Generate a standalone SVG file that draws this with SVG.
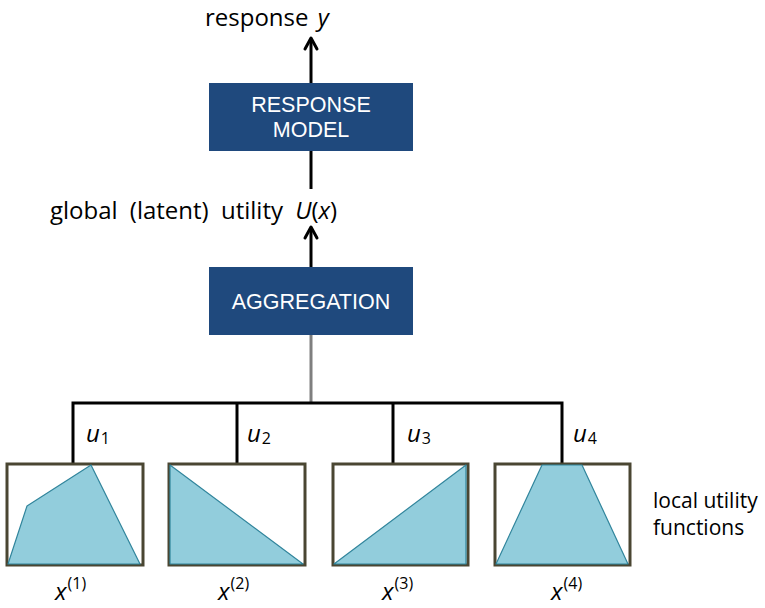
<svg xmlns="http://www.w3.org/2000/svg" width="765" height="608" viewBox="0 0 765 608">
<defs>
<style>
.box{fill:#1F497D;}
.boxt{font-family:"Liberation Sans",Arial,sans-serif;font-size:21.5px;fill:#ffffff;text-anchor:middle;}
.lbl{font-family:"Open Sans","DejaVu Sans",sans-serif;font-size:21px;fill:#000;}
.big{font-size:24px;}
.mi{font-style:italic;}
.sub{font-size:16px;font-style:normal;}
.frame{fill:#ffffff;stroke:#4A4632;stroke-width:3;}
.fn{fill:#92CDDC;stroke:#31859C;stroke-width:1.2;stroke-linejoin:round;}
.ln{stroke:#000;stroke-width:3;fill:none;}
.head{stroke:#000;stroke-width:3;fill:none;stroke-linecap:round;stroke-linejoin:round;}
</style>
</defs>
<rect width="765" height="608" fill="#ffffff"/>
<g id="connectors">
<line class="ln" x1="311" y1="83" x2="311" y2="39"/>
<path class="head" d="M305,49 L311,38 L317,49"/>
<line class="ln" x1="311" y1="151" x2="311" y2="189"/>
<line class="ln" x1="311" y1="267" x2="311" y2="228"/>
<path class="head" d="M305,238 L311,227 L317,238"/>
<line x1="311" y1="335" x2="311" y2="402" stroke="#7F7F7F" stroke-width="3"/>
<path class="ln" d="M73,463 V403 H562 V463"/>
<line class="ln" x1="237" y1="403" x2="237" y2="463"/>
<line class="ln" x1="393" y1="403" x2="393" y2="463"/>
</g>
<g id="response-label">
<text class="lbl big" x="205" y="26" word-spacing="3">response <tspan class="mi">y</tspan></text>
</g>
<g id="response-model">
<rect class="box" x="209" y="83" width="204" height="68"/>
<text class="boxt" x="311" y="112">RESPONSE</text>
<text class="boxt" x="311" y="137">MODEL</text>
</g>
<g id="global-label">
<text class="lbl big" x="50" y="219" word-spacing="6">global (latent) utility <tspan class="mi">U</tspan>(<tspan class="mi">x</tspan>)</text>
</g>
<g id="aggregation">
<rect class="box" x="209" y="267" width="204" height="68"/>
<text class="boxt" x="311" y="309">AGGREGATION</text>
</g>
<g id="f1">
<rect class="frame" x="7" y="464" width="136" height="101"/>
<polygon class="fn" points="8,564 27,506 91,465 140,564"/>
<text class="lbl big mi" x="86" y="442">u<tspan class="sub" dx="1" dy="2">1</tspan></text>
<text class="lbl big mi" x="55" y="600">x<tspan class="sub" dx="1" dy="-11">(1)</tspan></text>
</g>
<g id="f2">
<rect class="frame" x="169" y="464" width="136" height="101"/>
<polygon class="fn" points="170,465 303,564 170,564"/>
<text class="lbl big mi" x="247" y="442">u<tspan class="sub" dx="1" dy="2">2</tspan></text>
<text class="lbl big mi" x="218" y="600">x<tspan class="sub" dx="1" dy="-11">(2)</tspan></text>
</g>
<g id="f3">
<rect class="frame" x="333" y="464" width="135" height="101"/>
<polygon class="fn" points="334,564 466,465 466,564"/>
<text class="lbl big mi" x="407" y="442">u<tspan class="sub" dx="1" dy="2">3</tspan></text>
<text class="lbl big mi" x="382" y="600">x<tspan class="sub" dx="1" dy="-11">(3)</tspan></text>
</g>
<g id="f4">
<rect class="frame" x="495" y="464" width="135" height="101"/>
<polygon class="fn" points="496,564 542,465 582,465 628,564"/>
<text class="lbl big mi" x="573" y="442">u<tspan class="sub" dx="1" dy="2">4</tspan></text>
<text class="lbl big mi" x="551" y="600">x<tspan class="sub" dx="1" dy="-11">(4)</tspan></text>
</g>
<g id="local-label">
<text class="lbl" x="653" y="508">local utility</text>
<text class="lbl" x="653" y="535">functions</text>
</g>
</svg>
